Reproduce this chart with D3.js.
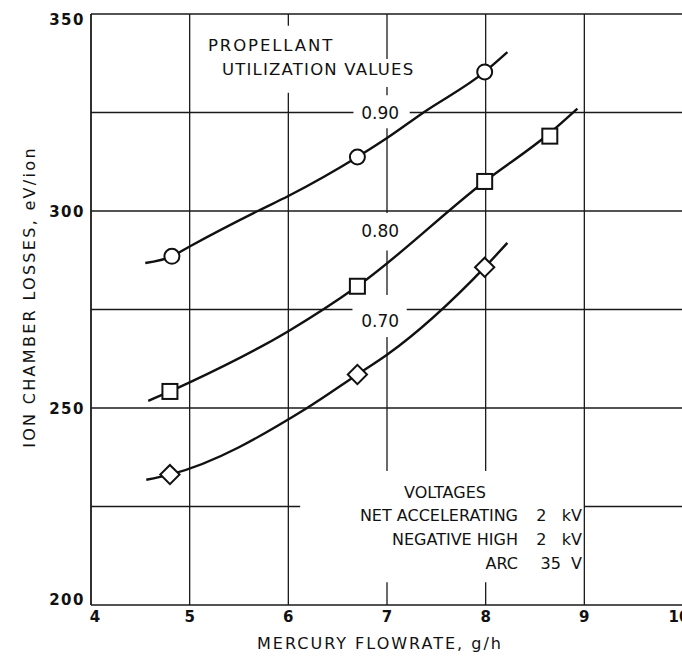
<!DOCTYPE html>
<html>
<head>
<meta charset="utf-8">
<script src="https://cdn.jsdelivr.net/npm/d3@7"></script>
<style>
  body { margin: 0; background: #fff; }
  text { font-family: "DejaVu Sans", sans-serif; fill: #111; }
</style>
</head>
<body>
<script>
// axis ticks
var flowTicks = [4, 5, 6, 7, 8, 9, 10]
var lossLabels = [200, 250, 300, 350]
var lossGrid = [225, 250, 275, 300, 325]

// measured points (flowrate g/h, losses eV/ion)
var circleFlow = [4.82, 6.70, 7.99]
var circleLoss = [288.5, 313.7, 335.3]
var squareFlow = [4.80, 6.70, 7.99, 8.65]
var squareLoss = [254.2, 280.9, 307.5, 319.0]
var diamondFlow = [4.80, 6.70, 7.99]
var diamondLoss = [233.1, 258.5, 285.7]

// faired curves
var curve90Flow = [4.55, 4.82, 5.00, 5.69, 6.00, 6.70, 7.00, 7.37, 7.99, 8.22]
var curve90Loss = [286.8, 288.5, 291.0, 300.0, 303.8, 313.7, 318.5, 325.0, 335.3, 340.3]
var curve80Flow = [4.58, 4.80, 5.00, 6.00, 6.70, 7.99, 8.65, 8.93]
var curve80Loss = [251.8, 254.2, 256.5, 269.5, 280.9, 307.5, 319.8, 326.0]
var curve70Flow = [4.56, 4.80, 6.19, 6.70, 7.00, 7.99, 8.22]
var curve70Loss = [231.8, 233.1, 250.0, 258.5, 263.5, 285.7, 291.9]

var utilLabels = ["0.90", "0.80", "0.70"]
var utilLabelLoss = [323.4, 293.4, 270.6]
var voltNames = ["NET ACCELERATING", "NEGATIVE HIGH", "ARC"]
var voltValues = ["2   kV", "2   kV", "35  V"]

var width = 682, height = 659
var margin = {top: 14, right: -1, bottom: 54, left: 91}

var xScale = d3.scaleLinear().domain([4, 10]).range([margin.left, width - margin.right])
var yScale = d3.scaleLinear().domain([200, 350]).range([height - margin.bottom, margin.top])

var svg = d3.select("body").append("svg")
    .attr("width", width)
    .attr("height", height)

// gridline pieces (gaps where the lettering sits)
var vSegments = [
    [4, 200, 350], [5, 200, 350],
    [6, 200, 330], [6, 347, 350],
    [7, 200, 205.8], [7, 234, 268], [7, 278.7, 290], [7, 299.5, 321], [7, 329.4, 331.5], [7, 338.6, 350],
    [8, 200, 205.8], [8, 234, 350],
    [9, 200, 350]
]
var hSegments = [
    [200, 4, 10], [350, 4, 10],
    [225, 4, 6.12], [225, 9, 10],
    [250, 4, 10],
    [275, 4, 6.65], [275, 7.2, 10],
    [300, 4, 10],
    [325, 4, 6.66], [325, 7.23, 10]
]

var grid = svg.append("g").attr("stroke", "#1a1a1a").attr("fill", "none")
grid.selectAll("line.v")
    .data(vSegments)
    .join("line")
    .attr("class", "v")
    .attr("x1", d => xScale(d[0])).attr("x2", d => xScale(d[0]))
    .attr("y1", d => yScale(d[1])).attr("y2", d => yScale(d[2]))
    .attr("stroke-width", d => d[0] === 4 ? 1.8 : 1.3)
grid.selectAll("line.h")
    .data(hSegments)
    .join("line")
    .attr("class", "h")
    .attr("y1", d => yScale(d[0])).attr("y2", d => yScale(d[0]))
    .attr("x1", d => xScale(d[1])).attr("x2", d => xScale(d[2]))
    .attr("stroke-width", d => (d[0] === 200 || d[0] === 350) ? 1.6 : 1.3)

// tick labels
svg.append("g")
    .selectAll("text")
    .data(lossLabels)
    .join("text")
    .attr("x", margin.left - 6)
    .attr("y", d => yScale(d))
    .attr("dy", d => d === 350 ? "0.74em" : d === 200 ? "0em" : "0.37em")
    .attr("text-anchor", "end")
    .attr("font-size", 15)
    .attr("font-weight", "bold")
    .attr("letter-spacing", 1.5)
    .text(d => d)

svg.append("g")
    .selectAll("text")
    .data(flowTicks)
    .join("text")
    .attr("x", d => xScale(d) + (d === 4 ? 4 : d === 10 ? -4 : 0))
    .attr("y", yScale(200) + 17)
    .attr("text-anchor", "middle")
    .attr("font-size", 15)
    .attr("font-weight", "bold")
    .text(d => d)

// axis titles
svg.append("text")
    .attr("x", 380)
    .attr("y", 649)
    .attr("text-anchor", "middle")
    .attr("font-size", 16)
    .attr("letter-spacing", 2.0)
    .text("MERCURY FLOWRATE, g/h")

svg.append("text")
    .attr("transform", "translate(35,297) rotate(-90)")
    .attr("text-anchor", "middle")
    .attr("font-size", 16)
    .attr("letter-spacing", 2.3)
    .text("ION CHAMBER LOSSES, eV/ion")

// curves
var line = d3.line()
    .x(d => xScale(d[0]))
    .y(d => yScale(d[1]))
    .curve(d3.curveMonotoneX)

var curves = [
    d3.zip(curve90Flow, curve90Loss),
    d3.zip(curve80Flow, curve80Loss),
    d3.zip(curve70Flow, curve70Loss)
]
svg.append("g")
    .selectAll("path")
    .data(curves)
    .join("path")
    .attr("d", line)
    .attr("fill", "none")
    .attr("stroke", "#111")
    .attr("stroke-width", 2.4)

// markers
var markers = svg.append("g").attr("fill", "#fff").attr("stroke", "#111").attr("stroke-width", 2)
markers.selectAll("circle")
    .data(d3.zip(circleFlow, circleLoss))
    .join("circle")
    .attr("cx", d => xScale(d[0]))
    .attr("cy", d => yScale(d[1]))
    .attr("r", 7.5)
markers.selectAll("rect.sq")
    .data(d3.zip(squareFlow, squareLoss))
    .join("rect")
    .attr("class", "sq")
    .attr("x", d => xScale(d[0]) - 7.5)
    .attr("y", d => yScale(d[1]) - 7.5)
    .attr("width", 15)
    .attr("height", 15)
markers.selectAll("rect.dm")
    .data(d3.zip(diamondFlow, diamondLoss))
    .join("rect")
    .attr("class", "dm")
    .attr("x", -6.8)
    .attr("y", -6.8)
    .attr("width", 13.6)
    .attr("height", 13.6)
    .attr("transform", d => `translate(${xScale(d[0])},${yScale(d[1])}) rotate(45)`)

// annotations
svg.append("text")
    .attr("x", 208).attr("y", 51)
    .attr("font-size", 16.5)
    .attr("letter-spacing", 1.9)
    .text("PROPELLANT")
svg.append("text")
    .attr("x", 222).attr("y", 75)
    .attr("font-size", 16.5)
    .attr("letter-spacing", 1.2)
    .text("UTILIZATION VALUES")

svg.append("g")
    .selectAll("text")
    .data(utilLabels)
    .join("text")
    .attr("x", xScale(6.93))
    .attr("y", (d, i) => yScale(utilLabelLoss[i]))
    .attr("text-anchor", "middle")
    .attr("font-size", 17)
    .text(d => d)

svg.append("text")
    .attr("x", 445).attr("y", 498)
    .attr("text-anchor", "middle")
    .attr("font-size", 16)
    .text("VOLTAGES")

var volts = svg.append("g")
volts.selectAll("text.name")
    .data(voltNames)
    .join("text")
    .attr("class", "name")
    .attr("x", 518)
    .attr("y", (d, i) => 521 + i * 24)
    .attr("text-anchor", "end")
    .attr("font-size", 16)
    .text(d => d)
volts.selectAll("text.val")
    .data(voltValues)
    .join("text")
    .attr("class", "val")
    .attr("x", 582)
    .attr("y", (d, i) => 521 + i * 24)
    .attr("text-anchor", "end")
    .attr("font-size", 16)
    .style("white-space", "pre")
    .text(d => d)
</script>
</body>
</html>
